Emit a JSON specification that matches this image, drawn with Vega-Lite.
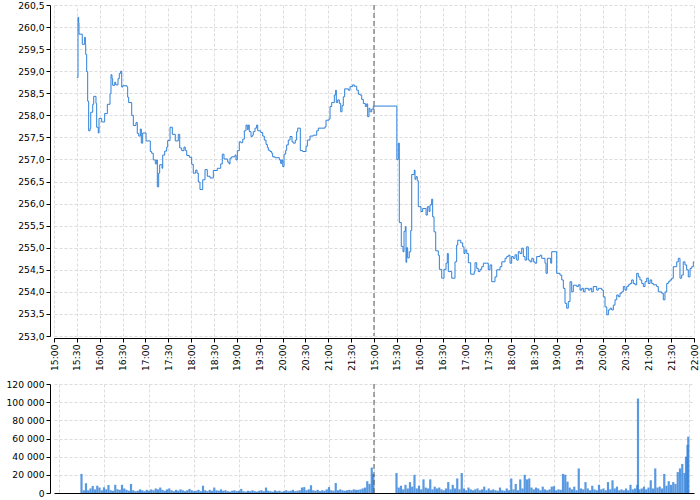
{
  "$schema": "https://vega.github.io/schema/vega-lite/v6.json",
  "padding": {"left": 5, "top": 1, "right": 4, "bottom": 4},
  "background": "white",
  "spacing": 9,
  "config": {
    "view": {"stroke": null},
    "font": "DejaVu Sans",
    "axis": {
      "labelFont": "DejaVu Sans", "labelFontSize": 9.2, "labelColor": "#000",
      "domainColor": "#000", "tickColor": "#000", "gridColor": "#dcdcdc",
      "gridDash": [3, 2], "title": null, "tickSize": 4, "labelPadding": 2,
      "labelOverlap": false
    }
  },
  "datasets": {
    "price": [
      {"t":30,"p":258.86},{"t":31.5,"p":260.22},{"t":32.4,"p":260.10},{"t":32.8,"p":259.84},{"t":37.1,"p":259.61},{"t":40.3,"p":259.77},{"t":41.1,"p":259.61},{"t":41.6,"p":259.38},{"t":42.9,"p":258.99},{"t":44.2,"p":258.32},{"t":45.5,"p":257.65},{"t":47.3,"p":257.70},{"t":48.2,"p":258.07},{"t":50.8,"p":258.25},{"t":52.1,"p":258.43},{"t":55.1,"p":258.27},{"t":56.0,"p":257.73},{"t":58.1,"p":257.60},{"t":59.1,"p":257.93},{"t":62.6,"p":257.85},{"t":66.5,"p":258.04},{"t":70.0,"p":258.25},{"t":73.5,"p":258.49},{"t":74.8,"p":258.92},{"t":76.1,"p":258.83},{"t":77.0,"p":258.68},{"t":79.7,"p":258.75},{"t":81.0,"p":258.69},{"t":84.0,"p":258.83},{"t":85.7,"p":258.95},{"t":87.5,"p":259.00},{"t":88.9,"p":258.64},{"t":90.2,"p":258.67},{"t":95.8,"p":258.64},{"t":96.7,"p":258.41},{"t":98.0,"p":258.29},{"t":102.0,"p":258.00},{"t":104.1,"p":257.77},{"t":107.6,"p":257.84},{"t":109.3,"p":257.59},{"t":111.2,"p":257.53},{"t":113.3,"p":257.69},{"t":114.6,"p":257.37},{"t":116.4,"p":257.60},{"t":120.8,"p":257.42},{"t":126.4,"p":257.18},{"t":128.2,"p":257.14},{"t":130.3,"p":256.99},{"t":133.0,"p":256.90},{"t":134.8,"p":256.99},{"t":135.6,"p":256.38},{"t":137.4,"p":256.69},{"t":138.7,"p":256.88},{"t":141.8,"p":256.80},{"t":142.7,"p":257.10},{"t":145.3,"p":257.19},{"t":147.9,"p":257.28},{"t":149.2,"p":257.43},{"t":152.3,"p":257.73},{"t":155.3,"p":257.57},{"t":159.2,"p":257.42},{"t":163.1,"p":257.57},{"t":165.0,"p":257.26},{"t":167.6,"p":257.20},{"t":170.6,"p":257.28},{"t":172.3,"p":257.20},{"t":174.2,"p":257.09},{"t":177.6,"p":257.05},{"t":180.7,"p":256.89},{"t":182.8,"p":256.69},{"t":186.0,"p":256.76},{"t":187.7,"p":256.69},{"t":189.4,"p":256.49},{"t":191.6,"p":256.32},{"t":195.2,"p":256.54},{"t":198.2,"p":256.77},{"t":201.2,"p":256.62},{"t":204.8,"p":256.58},{"t":209.1,"p":256.75},{"t":214.3,"p":256.80},{"t":218.8,"p":256.90},{"t":220.9,"p":257.12},{"t":223.1,"p":257.01},{"t":228.0,"p":256.94},{"t":229.7,"p":256.90},{"t":231.0,"p":257.03},{"t":233.2,"p":257.06},{"t":237.6,"p":257.10},{"t":238.9,"p":256.99},{"t":240.6,"p":257.20},{"t":243.2,"p":257.40},{"t":245.4,"p":257.38},{"t":247.7,"p":257.46},{"t":249.8,"p":257.65},{"t":252.0,"p":257.78},{"t":253.7,"p":257.68},{"t":255.0,"p":257.78},{"t":256.3,"p":257.63},{"t":258.6,"p":257.52},{"t":260.3,"p":257.55},{"t":261.6,"p":257.63},{"t":263.8,"p":257.71},{"t":266.0,"p":257.78},{"t":267.4,"p":257.65},{"t":271.3,"p":257.61},{"t":273.9,"p":257.53},{"t":276.0,"p":257.44},{"t":278.3,"p":257.34},{"t":280.0,"p":257.27},{"t":281.3,"p":257.21},{"t":283.5,"p":257.18},{"t":285.7,"p":257.14},{"t":287.0,"p":257.06},{"t":290.1,"p":257.04},{"t":295.7,"p":256.99},{"t":297.5,"p":256.91},{"t":298.9,"p":256.99},{"t":300.2,"p":256.84},{"t":301.9,"p":257.12},{"t":304.1,"p":257.21},{"t":305.4,"p":257.33},{"t":307.5,"p":257.44},{"t":309.8,"p":257.52},{"t":312.4,"p":257.40},{"t":314.1,"p":257.37},{"t":316.7,"p":257.44},{"t":318.5,"p":257.63},{"t":319.9,"p":257.71},{"t":323.3,"p":257.20},{"t":326.4,"p":257.18},{"t":330.8,"p":257.30},{"t":332.5,"p":257.44},{"t":336.0,"p":257.53},{"t":340.3,"p":257.55},{"t":344.8,"p":257.65},{"t":346.9,"p":257.71},{"t":355.7,"p":257.74},{"t":357.0,"p":257.89},{"t":360.9,"p":257.92},{"t":362.3,"p":258.20},{"t":364.5,"p":258.29},{"t":367.9,"p":258.46},{"t":369.7,"p":258.57},{"t":370.5,"p":258.29},{"t":372.4,"p":258.35},{"t":374.5,"p":258.27},{"t":376.3,"p":258.08},{"t":378.0,"p":258.22},{"t":379.7,"p":258.42},{"t":381.5,"p":258.60},{"t":386.3,"p":258.57},{"t":388.5,"p":258.65},{"t":392.0,"p":258.69},{"t":394.1,"p":258.66},{"t":397.3,"p":258.57},{"t":399.4,"p":258.48},{"t":401.6,"p":258.46},{"t":403.9,"p":258.36},{"t":406.0,"p":258.27},{"t":408.6,"p":258.20},{"t":410.4,"p":258.26},{"t":411.7,"p":257.97},{"t":413.4,"p":258.16},{"t":414.8,"p":258.08},{"t":417.0,"p":258.14},{"t":419.1,"p":258.21},
      {"t":450,"p":257.00},{"t":451.9,"p":257.37},{"t":453.2,"p":255.57},{"t":455.8,"p":255.03},{"t":458.1,"p":254.91},{"t":459.4,"p":255.37},{"t":461.1,"p":255.48},{"t":462.0,"p":254.67},{"t":462.9,"p":255.00},{"t":464.2,"p":254.77},{"t":466.3,"p":254.91},{"t":468.2,"p":255.39},{"t":469.5,"p":256.66},{"t":472.9,"p":256.76},{"t":473.8,"p":256.55},{"t":475.1,"p":256.61},{"t":476.8,"p":256.52},{"t":478.1,"p":255.93},{"t":481.7,"p":255.82},{"t":483.9,"p":255.89},{"t":488.3,"p":255.74},{"t":490.0,"p":255.93},{"t":492.2,"p":255.82},{"t":493.5,"p":255.97},{"t":495.7,"p":256.10},{"t":497.0,"p":255.70},{"t":498.8,"p":255.36},{"t":501.0,"p":254.93},{"t":504.4,"p":254.83},{"t":505.8,"p":254.51},{"t":508.9,"p":254.31},{"t":511.9,"p":254.51},{"t":514.5,"p":254.65},{"t":516.2,"p":254.87},{"t":517.5,"p":254.46},{"t":522.0,"p":254.31},{"t":526.3,"p":254.68},{"t":528.5,"p":255.06},{"t":529.9,"p":255.17},{"t":533.8,"p":255.11},{"t":536.4,"p":255.02},{"t":538.1,"p":254.87},{"t":539.4,"p":254.95},{"t":541.7,"p":254.87},{"t":543.8,"p":254.66},{"t":546.9,"p":254.40},{"t":551.6,"p":254.46},{"t":552.6,"p":254.66},{"t":554.8,"p":254.53},{"t":556.9,"p":254.46},{"t":559.1,"p":254.51},{"t":561.4,"p":254.57},{"t":563.5,"p":254.65},{"t":570.0,"p":254.50},{"t":572.3,"p":254.61},{"t":574.5,"p":254.23},{"t":578.8,"p":254.34},{"t":581.1,"p":254.50},{"t":585.4,"p":254.57},{"t":587.7,"p":254.68},{"t":592.0,"p":254.76},{"t":594.2,"p":254.80},{"t":596.3,"p":254.83},{"t":598.5,"p":254.65},{"t":600.7,"p":254.80},{"t":602.8,"p":254.76},{"t":605.1,"p":254.84},{"t":607.3,"p":254.72},{"t":609.4,"p":254.91},{"t":611.6,"p":254.87},{"t":613.9,"p":254.99},{"t":616.0,"p":254.80},{"t":618.2,"p":254.72},{"t":620.4,"p":255.02},{"t":622.5,"p":254.72},{"t":624.8,"p":254.68},{"t":627.0,"p":254.76},{"t":629.1,"p":254.68},{"t":631.3,"p":254.65},{"t":633.5,"p":254.80},{"t":637.9,"p":254.83},{"t":640.1,"p":254.76},{"t":644.4,"p":254.65},{"t":645.8,"p":254.42},{"t":647.5,"p":254.76},{"t":651.9,"p":254.65},{"t":653.2,"p":254.91},{"t":659.8,"p":254.42},{"t":664.1,"p":254.38},{"t":666.4,"p":254.27},{"t":668.5,"p":254.08},{"t":670.7,"p":253.74},{"t":672.9,"p":253.63},{"t":675.0,"p":253.78},{"t":677.3,"p":254.23},{"t":679.5,"p":254.00},{"t":681.6,"p":254.15},{"t":686.1,"p":254.12},{"t":688.2,"p":254.16},{"t":690.4,"p":254.04},{"t":692.7,"p":254.08},{"t":694.8,"p":254.00},{"t":697.0,"p":254.08},{"t":701.3,"p":254.04},{"t":703.5,"p":254.08},{"t":705.7,"p":254.00},{"t":707.8,"p":254.12},{"t":712.3,"p":254.04},{"t":714.4,"p":254.08},{"t":718.9,"p":254.04},{"t":721.0,"p":253.89},{"t":723.2,"p":253.66},{"t":725.5,"p":253.48},{"t":727.6,"p":253.59},{"t":729.8,"p":253.63},{"t":732.0,"p":253.59},{"t":734.1,"p":253.70},{"t":736.3,"p":253.82},{"t":738.6,"p":253.93},{"t":740.7,"p":253.89},{"t":742.9,"p":253.97},{"t":745.1,"p":254.00},{"t":747.2,"p":254.12},{"t":749.4,"p":254.04},{"t":751.7,"p":254.12},{"t":753.8,"p":254.16},{"t":756.0,"p":254.19},{"t":758.2,"p":254.27},{"t":760.3,"p":254.19},{"t":762.6,"p":254.16},{"t":764.8,"p":254.42},{"t":766.9,"p":254.34},{"t":769.1,"p":254.27},{"t":771.4,"p":254.19},{"t":773.5,"p":254.12},{"t":775.7,"p":254.23},{"t":777.9,"p":254.31},{"t":780.0,"p":254.19},{"t":782.3,"p":254.27},{"t":784.5,"p":254.19},{"t":786.6,"p":254.16},{"t":791.0,"p":254.12},{"t":793.1,"p":254.00},{"t":797.6,"p":253.97},{"t":799.7,"p":253.82},{"t":801.9,"p":254.00},{"t":804.2,"p":254.19},{"t":806.3,"p":254.23},{"t":808.5,"p":254.27},{"t":810.7,"p":254.31},{"t":812.8,"p":254.57},{"t":817.3,"p":254.68},{"t":819.4,"p":254.76},{"t":821.6,"p":254.31},{"t":823.8,"p":254.38},{"t":825.9,"p":254.68},{"t":828.2,"p":254.61},{"t":830.4,"p":254.50},{"t":832.5,"p":254.34},{"t":834.8,"p":254.53},{"t":837.0,"p":254.57},{"t":839.1,"p":254.68},{"t":840,"p":254.68}
    ],
    "vol": [
      {"t":30,"v":21000},{"t":33,"v":3000},{"t":36,"v":10700},{"t":39,"v":3000},{"t":42,"v":5000},{"t":45,"v":7700},{"t":48,"v":4000},{"t":51,"v":8000},{"t":54,"v":6000},{"t":57,"v":3000},{"t":60,"v":6300},{"t":63,"v":4000},{"t":66,"v":8800},{"t":69,"v":3000},{"t":72,"v":2500},{"t":75,"v":9000},{"t":78,"v":4000},{"t":81,"v":3500},{"t":84,"v":9000},{"t":87,"v":5000},{"t":90,"v":3500},{"t":93,"v":2500},{"t":96,"v":10000},{"t":99,"v":3000},{"t":102,"v":2000},{"t":105,"v":2500},{"t":108,"v":4000},{"t":111,"v":3000},{"t":114,"v":2000},{"t":117,"v":3500},{"t":120,"v":2500},{"t":123,"v":4000},{"t":126,"v":3000},{"t":129,"v":5000},{"t":132,"v":4000},{"t":135,"v":6000},{"t":138,"v":3500},{"t":141,"v":2500},{"t":144,"v":4000},{"t":147,"v":5000},{"t":150,"v":3000},{"t":153,"v":2000},{"t":156,"v":3500},{"t":159,"v":2500},{"t":162,"v":4000},{"t":165,"v":3000},{"t":168,"v":2000},{"t":171,"v":3000},{"t":174,"v":4500},{"t":177,"v":3000},{"t":180,"v":2000},{"t":183,"v":2500},{"t":186,"v":3500},{"t":189,"v":2000},{"t":192,"v":8000},{"t":195,"v":3000},{"t":198,"v":2000},{"t":201,"v":3500},{"t":204,"v":2500},{"t":207,"v":6000},{"t":210,"v":3000},{"t":213,"v":2500},{"t":216,"v":4000},{"t":219,"v":2500},{"t":222,"v":3000},{"t":225,"v":2000},{"t":228,"v":1500},{"t":231,"v":2500},{"t":234,"v":3000},{"t":237,"v":2000},{"t":240,"v":2500},{"t":243,"v":4500},{"t":246,"v":2000},{"t":249,"v":1500},{"t":252,"v":2500},{"t":255,"v":2000},{"t":258,"v":3000},{"t":261,"v":2000},{"t":264,"v":1500},{"t":267,"v":2500},{"t":270,"v":3000},{"t":273,"v":2000},{"t":276,"v":6000},{"t":279,"v":2500},{"t":282,"v":2000},{"t":285,"v":1500},{"t":288,"v":3000},{"t":291,"v":2000},{"t":294,"v":2500},{"t":297,"v":1500},{"t":300,"v":2000},{"t":303,"v":3000},{"t":306,"v":2000},{"t":309,"v":2500},{"t":312,"v":3500},{"t":315,"v":2000},{"t":318,"v":2500},{"t":321,"v":3000},{"t":324,"v":6000},{"t":327,"v":6500},{"t":330,"v":3000},{"t":333,"v":4000},{"t":336,"v":8500},{"t":339,"v":3000},{"t":342,"v":2500},{"t":345,"v":3500},{"t":348,"v":2000},{"t":351,"v":3000},{"t":354,"v":2500},{"t":357,"v":4000},{"t":360,"v":6500},{"t":363,"v":3000},{"t":366,"v":2500},{"t":369,"v":11000},{"t":372,"v":3000},{"t":375,"v":4000},{"t":378,"v":3000},{"t":381,"v":2500},{"t":384,"v":3000},{"t":387,"v":3500},{"t":390,"v":3000},{"t":393,"v":4000},{"t":396,"v":3500},{"t":399,"v":3500},{"t":402,"v":4000},{"t":405,"v":5000},{"t":408,"v":6000},{"t":411,"v":13000},{"t":414,"v":10000},{"t":417,"v":28000},{"t":419,"v":21000},
      {"t":450,"v":22000},{"t":453,"v":6000},{"t":456,"v":8000},{"t":459,"v":4000},{"t":462,"v":9000},{"t":465,"v":5000},{"t":468,"v":12000},{"t":471,"v":7000},{"t":474,"v":20000},{"t":477,"v":5000},{"t":480,"v":8000},{"t":483,"v":4000},{"t":486,"v":15000},{"t":489,"v":6000},{"t":492,"v":5000},{"t":495,"v":15000},{"t":498,"v":4000},{"t":501,"v":7000},{"t":504,"v":5000},{"t":507,"v":6000},{"t":510,"v":4000},{"t":513,"v":3000},{"t":516,"v":5000},{"t":519,"v":12000},{"t":522,"v":4000},{"t":525,"v":9000},{"t":528,"v":5000},{"t":531,"v":16000},{"t":534,"v":4000},{"t":537,"v":22000},{"t":540,"v":5000},{"t":543,"v":3000},{"t":546,"v":6000},{"t":549,"v":4000},{"t":552,"v":3000},{"t":555,"v":4000},{"t":558,"v":5000},{"t":561,"v":3000},{"t":564,"v":4000},{"t":567,"v":7000},{"t":570,"v":3000},{"t":573,"v":5000},{"t":576,"v":3000},{"t":579,"v":4000},{"t":582,"v":3000},{"t":585,"v":2500},{"t":588,"v":6000},{"t":591,"v":3000},{"t":594,"v":2500},{"t":597,"v":5000},{"t":600,"v":3000},{"t":603,"v":16000},{"t":606,"v":4000},{"t":609,"v":10000},{"t":612,"v":3000},{"t":615,"v":15000},{"t":618,"v":5000},{"t":621,"v":20000},{"t":624,"v":15000},{"t":627,"v":16000},{"t":630,"v":6000},{"t":633,"v":4000},{"t":636,"v":6000},{"t":639,"v":5000},{"t":642,"v":3000},{"t":645,"v":7000},{"t":648,"v":4000},{"t":651,"v":3000},{"t":654,"v":4000},{"t":657,"v":7000},{"t":660,"v":7500},{"t":663,"v":3000},{"t":666,"v":4000},{"t":669,"v":3500},{"t":672,"v":21000},{"t":675,"v":20000},{"t":678,"v":12500},{"t":681,"v":6000},{"t":684,"v":4000},{"t":687,"v":7000},{"t":690,"v":3000},{"t":693,"v":27000},{"t":696,"v":5000},{"t":699,"v":4000},{"t":702,"v":12000},{"t":705,"v":5000},{"t":708,"v":3000},{"t":711,"v":8000},{"t":714,"v":4000},{"t":717,"v":3000},{"t":720,"v":9000},{"t":723,"v":4000},{"t":726,"v":5000},{"t":729,"v":3000},{"t":732,"v":12000},{"t":735,"v":4000},{"t":738,"v":14000},{"t":741,"v":5000},{"t":744,"v":7000},{"t":747,"v":3000},{"t":750,"v":4000},{"t":753,"v":3000},{"t":756,"v":5000},{"t":759,"v":3000},{"t":762,"v":9000},{"t":765,"v":4000},{"t":768,"v":5000},{"t":771,"v":9000},{"t":772,"v":104000},{"t":774,"v":4000},{"t":777,"v":5000},{"t":780,"v":7000},{"t":783,"v":4000},{"t":786,"v":6000},{"t":789,"v":14000},{"t":792,"v":5000},{"t":795,"v":27000},{"t":798,"v":6000},{"t":801,"v":7000},{"t":804,"v":5000},{"t":807,"v":21000},{"t":810,"v":8000},{"t":813,"v":13000},{"t":816,"v":9000},{"t":819,"v":12000},{"t":822,"v":10000},{"t":825,"v":23000},{"t":828,"v":27000},{"t":831,"v":32000},{"t":834,"v":22000},{"t":836,"v":40000},{"t":838,"v":53000},{"t":839,"v":62000}
    ],
    "sep": [{"t": 420}]
  },
  "vconcat": [
    {
      "width": 640,
      "height": 331,
      "resolve": {"axis": {"x": "independent"}},
      "layer": [
        {
          "data": {"name": "price"},
          "mark": {"type": "line", "interpolate": "step-after", "color": "#2f80da", "strokeWidth": 1},
          "encoding": {
            "x": {
              "field": "t", "type": "quantitative",
              "scale": {"domain": [0, 840], "nice": false, "zero": false},
              "axis": {
                "orient": "bottom",
                "values": [0,60,120,180,240,300,360,420,480,540,600,660,720,780,840],
                "labelAngle": -90,
                "labelOverlap": false,
                "labelFlush": false,
                "labelExpr": "(15 + floor((datum.value >= 420 ? datum.value - 420 : datum.value) / 60)) + ':00'",
                "offset": 2,
                "grid": true
              }
            },
            "y": {
              "field": "p", "type": "quantitative",
              "scale": {"domain": [253, 260.5], "nice": false, "zero": false},
              "axis": {
                "values": [253,253.5,254,254.5,255,255.5,256,256.5,257,257.5,258,258.5,259,259.5,260,260.5],
                "labelExpr": "replace(format(datum.value, '.1f'), '.', ',')",
                "labelOverlap": false,
                "offset": 4,
                "minExtent": 45, "maxExtent": 45,
                "grid": true
              }
            }
          }
        },
        {
          "data": {"name": "sep"},
          "mark": {"type": "rule", "color": "#555555", "strokeDash": [5, 3], "strokeWidth": 1},
          "encoding": {
            "x": {
              "field": "t", "type": "quantitative",
              "axis": {
                "orient": "bottom",
                "values": [30,90,150,210,270,330,390,450,510,570,630,690,750,810],
                "labelAngle": -90,
                "labelOverlap": false,
                "labelFlush": false,
                "labelExpr": "(15 + floor((datum.value >= 420 ? datum.value - 420 : datum.value) / 60)) + ':30'",
                "offset": 2,
                "grid": true
              }
            }
          }
        }
      ]
    },
    {
      "width": 640,
      "height": 109,
      "layer": [
        {
          "data": {"name": "vol"},
          "mark": {"type": "bar", "width": 2.2, "color": "#2f80da", "opacity": 0.8},
          "encoding": {
            "x": {
              "field": "t", "type": "quantitative",
              "scale": {"domain": [0, 840], "nice": false, "zero": false},
              "axis": {
                "values": [0,30,60,90,120,150,180,210,240,270,300,330,360,390,420,450,480,510,540,570,600,630,660,690,720,750,780,810,840],
                "labels": false, "ticks": false, "grid": true
              }
            },
            "y": {
              "field": "v", "type": "quantitative",
              "scale": {"domain": [0, 120000], "nice": false},
              "axis": {
                "values": [0,20000,40000,60000,80000,100000,120000],
                "labelExpr": "replace(format(datum.value, ','), ',', ' ')",
                "labelOverlap": false,
                "offset": 4,
                "minExtent": 45, "maxExtent": 45,
                "grid": true
              }
            }
          }
        },
        {
          "data": {"name": "sep"},
          "mark": {"type": "rule", "color": "#555555", "strokeDash": [5, 3], "strokeWidth": 1},
          "encoding": {"x": {"field": "t", "type": "quantitative"}}
        }
      ]
    }
  ]
}
